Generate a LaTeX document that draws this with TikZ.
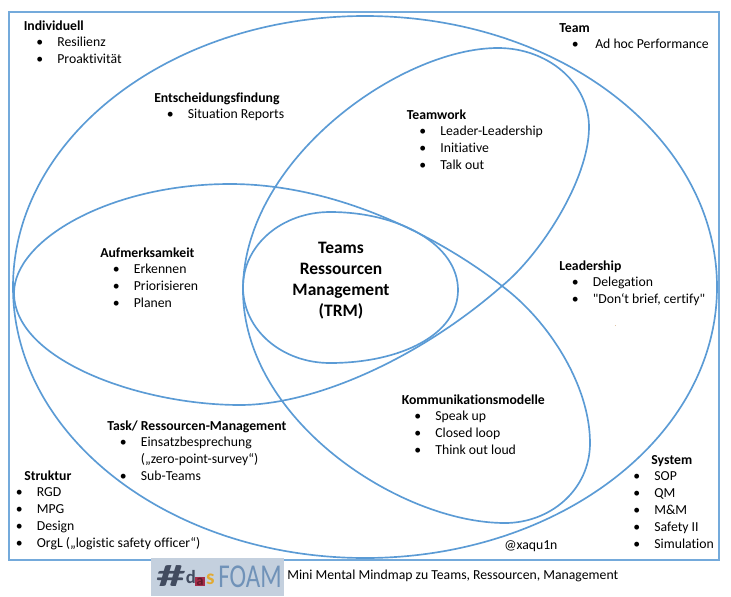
\documentclass[tikz,border=0pt]{standalone}
\usepackage{fontspec}
\setmainfont[Ligatures=NoCommon]{Carlito}
\newfontface\rawquotes{Carlito}
\usepackage{tikz}
\usetikzlibrary{positioning}
\definecolor{venblue}{RGB}{91,155,213}
\definecolor{logobg}{RGB}{196,208,222}
\definecolor{logoslate}{RGB}{66,76,96}
\definecolor{logored}{RGB}{166,44,72}
\definecolor{logoyellow}{RGB}{226,170,50}
\definecolor{logofoam}{RGB}{112,146,184}
% one bullet line, and the wrapped line under it
\newcommand{\blockitem}[1]{\hspace*{12pt}\makebox[0pt]{\textbullet}\hspace{13.2pt}#1}
\newcommand{\blockmore}[1]{\hspace*{25.2pt}#1}
\newcommand{\blockhead}[2][0pt]{\hspace*{#1}\strut\textbf{#2}}

\begin{document}
\begin{tikzpicture}[
    x=0.75pt, y=-0.75pt,
    venn_line/.style={draw=venblue, line width=1.25pt},
    frame_line/.style={draw=venblue!85, line width=1.6pt},
    block/.style={anchor=north west, inner sep=0pt, align=left, font=\fontsize{10.3}{12.6}\selectfont},
    logo_part/.style={inner sep=0pt}
]
    \useasboundingbox (0,0) rectangle (731,596);

    % Outer frame
    \draw[frame_line] (9,12) rectangle (719,560);

    % Big ellipse
    \draw[venn_line] (365,287) ellipse [x radius=352, y radius=271];

    % Three lobes, one closed line
    \draw[venn_line] (498,48) .. controls (548,48) and (589,83) .. (589,127)
        .. controls (589,180) and (540,255) .. (502,286)
        .. controls (420,358) and (315,405) .. (240,405)
        .. controls (140,405) and (14,360) .. (14,293)
        .. controls (14,240) and (110,184) .. (230,184)
        .. controls (345,184) and (450,245) .. (502,286)
        .. controls (548,320) and (590,385) .. (590,443)
        .. controls (590,490) and (550,523) .. (505,523)
        .. controls (400,523) and (243,420) .. (243,290)
        .. controls (243,160) and (400,48) .. (498,48) -- cycle;

    % Inner oval
    \draw[venn_line] (330,212) .. controls (400,212) and (458,245) .. (458,290)
        .. controls (458,335) and (400,363) .. (330,363)
        .. controls (282,363) and (243,330) .. (243,287)
        .. controls (243,245) and (282,212) .. (330,212);

    % Centre title
    \node[inner sep=0pt, align=center, font=\fontsize{13.1}{15.8}\selectfont\bfseries] (trm) at (341,281) {Teams\\Ressourcen\\Management\\(TRM)};

    % Text blocks, top edge = first baseline - 12
    \node[block] (individuell) at (23.5,18) {\blockhead{Individuell}\\\blockitem{Resilienz}\\\blockitem{Proaktivität}};
    \node[block] (entscheidung) at (154,90) {\blockhead{Entscheidungsfindung}\\\blockitem{Situation Reports}};
    \node[block] (team) at (559,20) {\blockhead{Team}\\\hspace*{12pt}\makebox[0pt]{\textbullet}\hspace{15pt}Ad hoc Performance};
    \node[block] (teamwork) at (406.5,107) {\blockhead{Teamwork}\\\blockitem{Leader-Leadership}\\\blockitem{Initiative}\\\blockitem{Talk out}};
    \node[block] (aufmerksam) at (100,245) {\blockhead{Aufmerksamkeit}\\\blockitem{Erkennen}\\\blockitem{Priorisieren}\\\blockitem{Planen}};
    \node[block] (leadership) at (559,258) {\blockhead{Leadership}\\\blockitem{Delegation}\\\blockitem{{\rawquotes"}Don‘t brief, certify{\rawquotes"}}};
    \node[block] (kommunikation) at (401.5,392) {\blockhead{Kommunikationsmodelle}\\\blockitem{Speak up}\\\blockitem{Closed loop}\\\blockitem{Think out loud}};
    \node[block] (task) at (107,418) {\blockhead{Task/ Ressourcen-Management}\\\blockitem{Einsatzbesprechung}\\\blockmore{(„zero-point-survey“)}\\\blockitem{Sub-Teams}};
    \node[block] (struktur) at (3,468) {\blockhead[15.8pt]{Struktur}\\\blockitem{RGD}\\\blockitem{MPG}\\\blockitem{Design}\\\blockitem{OrgL („logistic safety officer“)}};
    \node[block] (system) at (620.5,452) {\blockhead[23pt]{System}\\\blockitem{SOP}\\\blockitem{QM}\\\blockitem{M\&M}\\\blockitem{Safety II}\\\blockitem{Simulation}};

    % Small marks
    \node[block] (handle) at (504,537) {\strut @xaqu1n};
    \node[inner sep=0pt, text=brown, font=\fontsize{5}{5}\selectfont] (dot) at (615.5,326) {.};

    % Logo
    \node[fill=logobg, minimum width=99.75pt, minimum height=28.5pt, inner sep=0pt] (logo) at (217.5,577) {};
    \node[logo_part, text=logoslate, font=\fontsize{23}{23}\selectfont\bfseries, xscale=1.9] (hash) at (171,576) {\#};
    \node[logo_part, text=logoslate, font=\fontsize{14}{14}\selectfont\bfseries] (das_d) at (191,577) {d};
    \node[logo_part, fill=logored, text=logored!60!black, font=\fontsize{11}{11}\selectfont\bfseries, minimum width=7.5pt, minimum height=7pt] (das_a) at (200,581.5) {a};
    \node[logo_part, text=logoyellow, font=\fontsize{16}{16}\selectfont\bfseries] (das_s) at (210.5,579) {s};
    \node[logo_part, text=logofoam, font=\fontsize{25}{25}\selectfont, xscale=0.75] (foam) at (250,577) {FOAM};

    % Caption
    \node[block, anchor=west] (caption) at (287,575.5) {Mini Mental Mindmap zu Teams, Ressourcen, Management};

\end{tikzpicture}
\end{document}
